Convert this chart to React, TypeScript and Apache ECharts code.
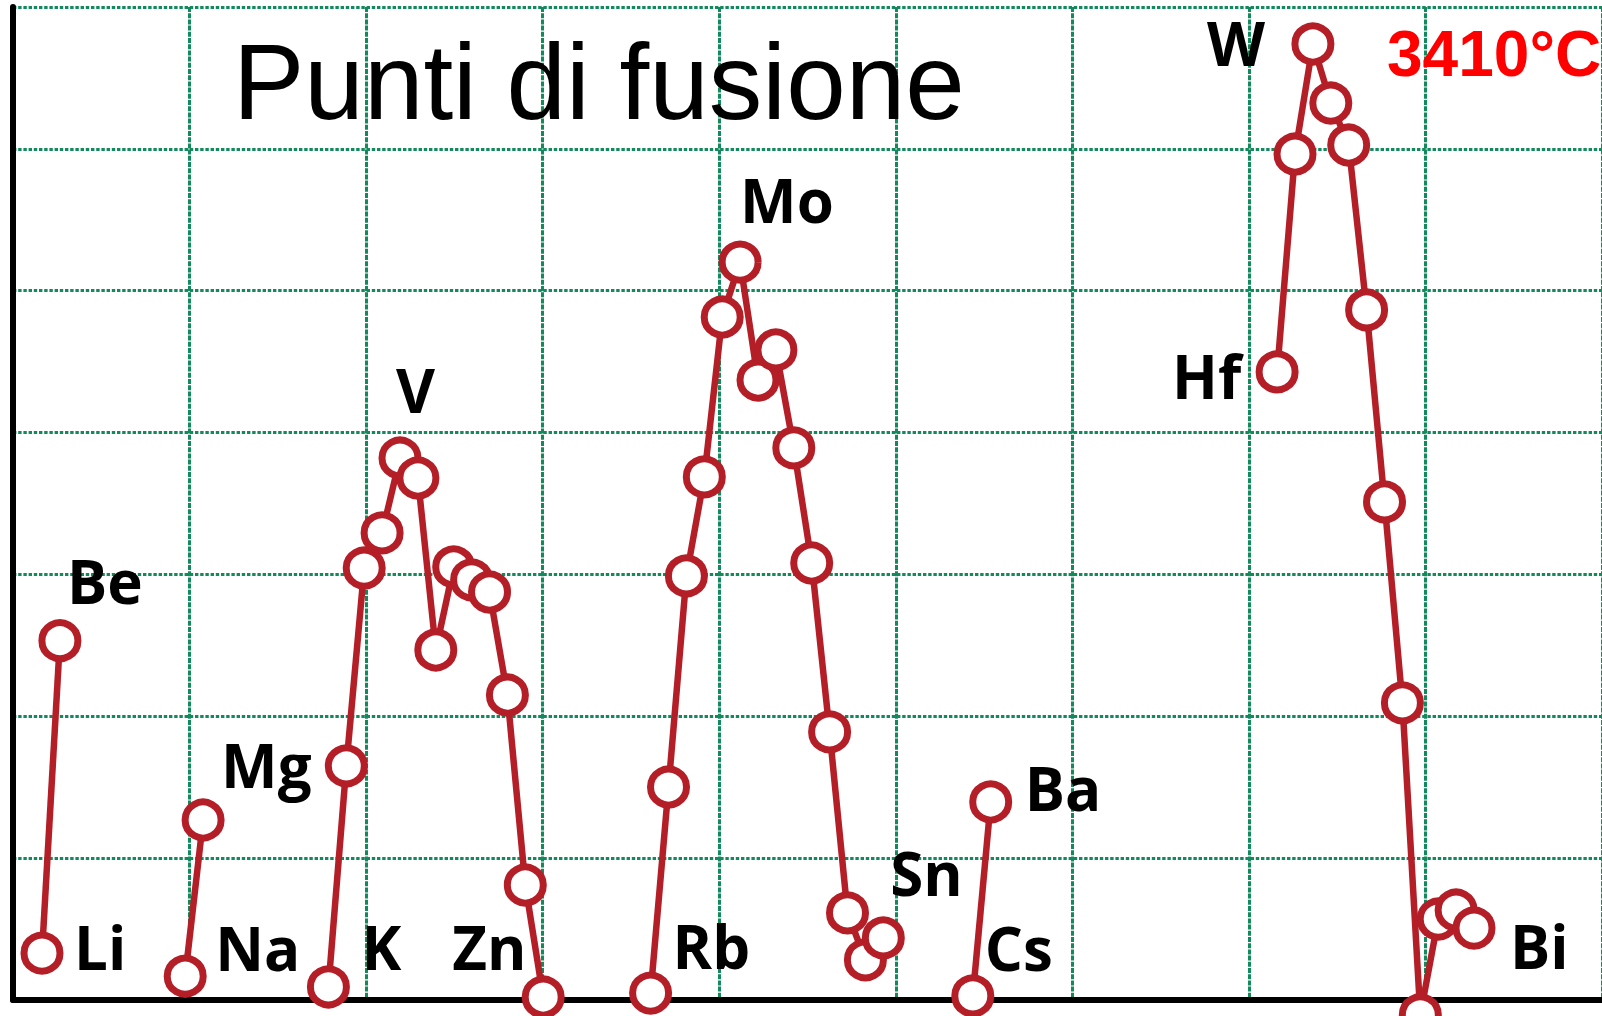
import React, { useEffect, useRef } from "react";
import * as echarts from "echarts";

// ---- data ----
const symbols = ["Li", "Be", "Na", "Mg", "K", "Ca", "Sc", "Ti", "V", "Cr", "Mn", "Fe", "Co", "Ni", "Cu", "Zn", "Ga", "Rb", "Sr", "Y", "Zr", "Nb", "Mo", "Tc", "Ru", "Rh", "Pd", "Ag", "Cd", "In", "Sn", "Cs", "Ba", "Hf", "Ta", "W", "Re", "Os", "Ir", "Pt", "Au", "Hg", "Tl", "Pb", "Bi"];
const atomicNumbers = [3, 4, 11, 12, 19, 20, 21, 22, 23, 24, 25, 26, 27, 28, 29, 30, 31, 37, 38, 39, 40, 41, 42, 43, 44, 45, 46, 47, 48, 49, 50, 55, 56, 72, 73, 74, 75, 76, 77, 78, 79, 80, 81, 82, 83];
const meltingPointsC = [180, 1290, 98, 653, 60, 845, 1548, 1673, 1939, 1868, 1257, 1552, 1506, 1463, 1097, 422, 24, 38, 770, 1520, 1872, 2440, 2635, 2216, 2323, 1975, 1566, 966, 323, 156, 234, 28, 717, 2245, 3019, 3410, 3200, 3051, 2465, 1783, 1069, -39, 301, 333, 269];
const labeledSymbols = ["Li", "Be", "Na", "Mg", "K", "V", "Zn", "Rb", "Mo", "Sn", "Cs", "Ba", "Hf", "W", "Bi"];
const titleText = "Punti di fusione";
const maxLabelSuffix = "°C";

// ---- layout / style ----
const RED = "#B41E27";
const GREEN = "#138A5C";
const LABEL_FONT = "'Open Sans', 'DejaVu Sans', sans-serif";
// label offsets (px) relative to the marker centre: [dx, dy, align]
const labelLayout: Record<string, [number, number, string]> = {
  Li: [32, -6, "left"],
  Be: [7, -60, "left"],
  Na: [30, -28, "left"],
  Mg: [18, -55, "left"],
  K: [33, -40, "left"],
  V: [-4, -68, "left"],
  Zn: [-73, 62, "left"],
  Rb: [22, -47, "left"],
  Mo: [0, -62, "left"],
  Sn: [7, -65, "left"],
  Cs: [12, -48, "left"],
  Ba: [34, -14, "left"],
  Hf: [-36, 4, "right"],
  W: [-48, -1, "right"],
  Bi: [36, 18, "left"],
};

// x: atomic number range, y: °C range matching the drawn frame
const X_MIN = 1.38;
const X_MAX = 90.15;
const Y_MIN = 13.5;
const Y_MAX = 3541.4;

function buildGroups() {
  const groups: number[][] = [];
  let cur: number[] = [];
  for (let i = 0; i < atomicNumbers.length; i++) {
    if (cur.length && atomicNumbers[i] - atomicNumbers[cur[cur.length - 1]] > 1) {
      groups.push(cur);
      cur = [];
    }
    cur.push(i);
  }
  if (cur.length) groups.push(cur);
  return groups;
}

export default function App() {
  const ref = useRef<HTMLDivElement>(null);
  useEffect(() => {
    if (!ref.current) return;
    const chart = echarts.init(ref.current, undefined, { renderer: "svg" });
    const groups = buildGroups();
    const series = groups.map((g, gi) => ({
      type: "line",
      name: "g" + gi,
      xAxisIndex: 0,
      yAxisIndex: 0,
      clip: false,
      silent: true,
      z: 5,
      symbol: "circle",
      symbolSize: 36,
      showSymbol: true,
      showAllSymbol: true,
      itemStyle: { color: "#ffffff", borderColor: RED, borderWidth: 7 },
      lineStyle: { color: RED, width: 6.5 },
      emphasis: { disabled: true },
      data: g.map((i) => {
        const s = symbols[i];
        const item: any = { value: [atomicNumbers[i], meltingPointsC[i]] };
        if (labeledSymbols.includes(s)) {
          const lay = labelLayout[s];
          item.label = {
            show: true,
            formatter: s,
            position: "inside",
            align: lay[2],
            verticalAlign: "middle",
            offset: [lay[0], lay[1]],
            fontFamily: LABEL_FONT,
            fontWeight: "bold",
            fontSize: 60,
            color: "#000000",
          };
        }
        return item;
      }),
    }));
    const wIdx = meltingPointsC.indexOf(Math.max(...meltingPointsC));
    chart.setOption({
      animation: false,
      backgroundColor: "#ffffff",
      title: {
        text: titleText,
        left: 233,
        top: 28,
        padding: 0,
        textStyle: {
          fontFamily: "'Liberation Sans', Arial, sans-serif",
          fontSize: 107,
          fontWeight: "normal",
          color: "#000000",
        },
      },
      grid: { left: 13, right: 0, top: 7, bottom: 16, containLabel: false },
      xAxis: [
        { type: "value", min: X_MIN, max: X_MAX, show: false },
        {
          type: "value",
          min: 0,
          max: 9,
          interval: 1,
          position: "bottom",
          axisLine: { show: true, onZero: false, lineStyle: { color: "#000000", width: 6 } },
          axisTick: { show: false },
          axisLabel: { show: false },
          splitLine: { show: true, lineStyle: { color: GREEN, width: 3, type: [5, 1.2] } },
        },
      ],
      yAxis: [
        { type: "value", min: Y_MIN, max: Y_MAX, show: false },
        {
          type: "value",
          min: 0,
          max: 7,
          interval: 1,
          position: "left",
          axisLine: { show: true, onZero: false, lineStyle: { color: "#000000", width: 6 } },
          axisTick: { show: false },
          axisLabel: { show: false },
          splitLine: { show: true, lineStyle: { color: GREEN, width: 3, type: [3.4, 1.8] } },
        },
      ],
      graphic: [
        {
          type: "text",
          left: 1387,
          top: 22,
          z: 10,
          style: {
            text: `${meltingPointsC[wIdx]}${maxLabelSuffix}`,
            fill: "#FF0000",
            font: "bold 64px 'Liberation Sans', Arial, sans-serif",
          },
        },
      ],
      series,
    });
    return () => chart.dispose();
  }, []);
  return (
    <div
      ref={ref}
      style={{ position: "fixed", left: 0, top: 0, width: 1602, height: 1016, background: "#fff" }}
    />
  );
}
